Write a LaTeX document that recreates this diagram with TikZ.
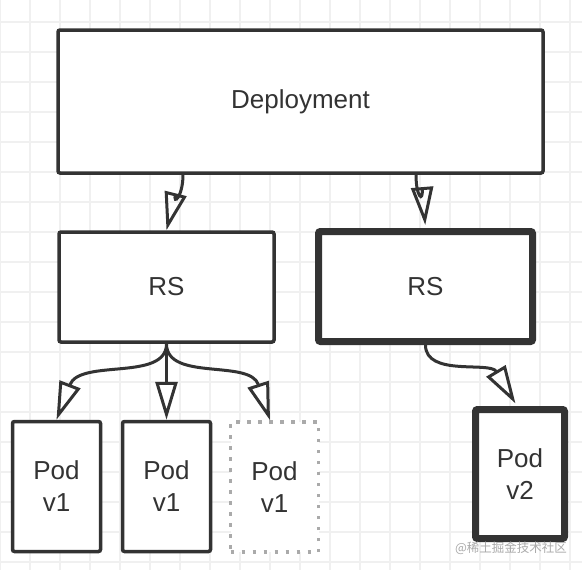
\documentclass[tikz,border=0pt]{standalone}
\usepackage{fontspec}
\setmainfont{Liberation Sans}
\newfontfamily\cjkfont{Noto Sans CJK SC}
\usetikzlibrary{arrows.meta}

\definecolor{ink}{RGB}{51,51,51}
\definecolor{gridgray}{RGB}{240,240,240}
\definecolor{dotgray}{RGB}{170,170,170}

\tikzset{
	gridline/.style={gridgray, line width=1.5pt},
	box/.style={draw=ink, fill=white, line width=3.5pt, rounded corners=2pt, text=ink, font=\fontsize{26}{32}\selectfont, align=center},
	boldbox/.style={box, line width=7pt},
	ghostbox/.style={box, draw=dotgray, line cap=butt, dash pattern=on 3.5pt off 7.5pt, rounded corners=0pt},
	link/.style={ink, line width=3pt, -{Triangle[open, length=38pt, width=22pt]}}
}

\begin{document}
\begin{tikzpicture}[x=1pt, y=-1pt]
		\useasboundingbox (0,0) rectangle (582,570);
		\fill [white] (0,0) rectangle (582,570);
		\foreach \gx in {0,30,...,570} \draw [gridline] (\gx,0) -- (\gx,570);
		\foreach \gy in {22,52,...,562} \draw [gridline] (0,\gy) -- (582,\gy);

		\node [box, minimum width=485, minimum height=143] (deploy) at (300.5,101.5) {Deployment};
		\node [box, minimum width=215, minimum height=110] (rsold) at (166.5,287) {RS};
		\node [boldbox, minimum width=214, minimum height=110] (rsnew) at (425.5,286.5) {RS};
		\node [box, minimum width=88, minimum height=130] (podA) at (56.5,486.5) {Pod\\v1};
		\node [box, minimum width=88, minimum height=130] (podB) at (166.5,486.5) {Pod\\v1};
		\node [ghostbox, minimum width=88, minimum height=130] (podC) at (274.5,487) {Pod\\v1};
		\node [boldbox, minimum width=89, minimum height=129] (podD) at (520,474) {Pod\\v2};
		\node [text=dotgray, font=\cjkfont\fontsize{12.5}{14}\selectfont] (mark) at (511,548) {@稀土掘金技术社区};

		\draw [link] ([xshift=-117.5pt]deploy.south) .. controls +(0,22) and +(6,-24) .. (rsold.north);
		\draw [link, shorten >=3pt] ([xshift=115.5pt]deploy.south) .. controls +(0,22) and +(-2,-24) .. (rsnew.north);
		\draw [link] (rsold.south) .. controls +(0,38) and +(23.5,-61.5) .. (podA.north);
		\draw [link] (rsold.south) -- (podB.north);
		\draw [link] (rsold.south) .. controls +(0,38) and +(-20,-61.5) .. ([xshift=-4.5pt]podC.north);
		\draw [link, shorten >=3pt] (rsnew.south) .. controls +(0,32) and +(-27,-45) .. ([xshift=-3pt]podD.north);
	\end{tikzpicture}
\end{document}
